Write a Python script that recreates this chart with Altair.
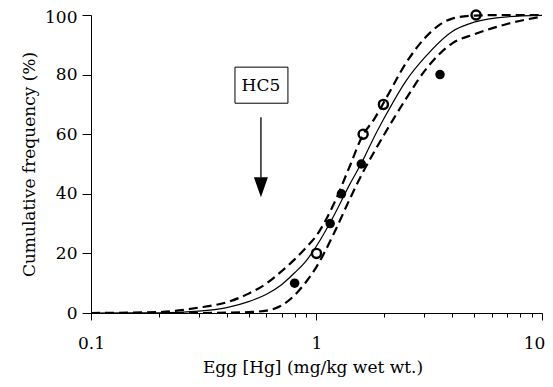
import altair as alt
import pandas as pd

curve_x = [0.1, 0.2, 0.3, 0.4, 0.5, 0.6, 0.7, 0.8, 0.9, 1.0, 1.2, 1.4, 1.6, 1.8, 2.0, 2.5, 3.0, 4.0, 5.0, 7.0, 10.0]
fit_y = [0, 0.05, 0.6, 1.8, 3.8, 6.3, 9.5, 13.5, 17.5, 22.5, 33, 43, 51, 59, 65.5, 78, 85.5, 94.5, 97.6, 99.4, 99.9]
upper_y = [0, 0.3, 1.8, 3.6, 6.5, 9.9, 14, 18, 22, 26, 37, 49, 59.5, 65, 71, 84, 92, 98.8, 99.8, 100, 100]
lower_y = [0, 0, 0, 0.1, 0.3, 0.8, 2.5, 6, 10.5, 15.5, 27, 38, 47, 54, 60, 72, 81, 90.5, 93.5, 97, 99.5]

# ---- observed points ----
filled_x = [0.8, 1.15, 1.29, 1.58, 3.53]
filled_y = [10, 30, 40, 50, 80]
open_x = [1.0, 1.61, 1.98, 5.1]
open_y = [20, 60, 70, 100]

# ---- HC5 annotation ----
hc5_label = ["HC5"]
hc5_x = [0.567]
box_x = [0.435]
box_x2 = [0.747]
box_y = [70.4]
box_y2 = [82.5]
label_y = [76.3]
arrow_top = [65.7]
arrow_base = [45.5]
arrow_head_y = [42.2]

x_ticks = [0.1, 0.2, 0.3, 0.4, 0.5, 0.6, 0.7, 0.8, 0.9, 1, 2, 3, 4, 5, 6, 7, 8, 9, 10]
y_ticks = list(range(0, 101, 5))

FONT = "DejaVu Serif"

fit_df = pd.DataFrame({"x": curve_x, "y": fit_y})
band_df = pd.concat([
    pd.DataFrame({"x": curve_x, "y": upper_y, "curve": "upper"}),
    pd.DataFrame({"x": curve_x, "y": lower_y, "curve": "lower"}),
])
filled_df = pd.DataFrame({"x": filled_x, "y": filled_y})
open_df = pd.DataFrame({"x": open_x, "y": open_y})
box_df = pd.DataFrame({"x": box_x, "x2": box_x2, "y": box_y, "y2": box_y2})
text_df = pd.DataFrame({"x": hc5_x, "y": label_y, "t": hc5_label})
arrow_df = pd.DataFrame({"x": hc5_x, "y": arrow_top, "y2": arrow_base})
head_df = pd.DataFrame({"x": hc5_x, "y": arrow_head_y})

xscale = alt.Scale(type="log", domain=[0.1, 10])
yscale = alt.Scale(domain=[0, 100], nice=False)

x_axis = alt.Axis(
    values=x_ticks,
    format="~g",
    labelExpr="(datum.value == 0.1 || datum.value == 1 || datum.value == 10) ? datum.label : ''",
    tickSize={"condition": {"test": "datum.value == 0.1 || datum.value == 1 || datum.value == 10", "value": 7}, "value": 4},
    labelOffset={"condition": {"test": "datum.value == 10", "value": -8}, "value": 0},
    labelOverlap=False,
    labelFlush=False,
    labelPadding=15,
    title="Egg [Hg] (mg/kg wet wt.)",
    titleX=221.5,
    titleY=59,
    titleBaseline="alphabetic",
    titleAnchor="middle",
    titleAlign="center",
)
y_axis = alt.Axis(
    values=y_ticks,
    labelExpr="datum.value % 20 == 0 ? datum.label : ''",
    tickSize={"condition": {"test": "datum.value % 20 == 0", "value": 9}, "value": 7},
    labelOffset={"condition": {"test": "datum.value == 100", "value": 2}, "value": 0},
    labelOverlap=False,
    labelFlush=False,
    labelPadding=5,
    title="Cumulative frequency (%)",
    titleX=-53,
    titleY=149,
    titleBaseline="bottom",
    titleAlign="center",
)

X = alt.X("x:Q", scale=xscale, axis=x_axis)
Y = alt.Y("y:Q", scale=yscale, axis=y_axis)
Xn = alt.X("x:Q", scale=xscale)
Yn = alt.Y("y:Q", scale=yscale)

fit_line = alt.Chart(fit_df).mark_line(color="black", strokeWidth=1.2, interpolate="monotone").encode(x=X, y=Y)
band_lines = alt.Chart(band_df).mark_line(
    color="black", strokeWidth=2.2, strokeDash=[9, 5], interpolate="monotone"
).encode(x=Xn, y=Yn, detail="curve:N")
filled_pts = alt.Chart(filled_df).mark_point(
    shape="circle", filled=True, color="black", size=90, opacity=1
).encode(x=Xn, y=Yn)
open_pts = alt.Chart(open_df).mark_point(
    shape="circle", filled=False, color="black", size=82, strokeWidth=2.4, opacity=1
).encode(x=Xn, y=Yn)
box = alt.Chart(box_df).mark_rect(fill="white", stroke="black", strokeWidth=1).encode(
    x=Xn, x2="x2:Q", y=Yn, y2="y2:Q"
)
txt = alt.Chart(text_df).mark_text(font=FONT, fontSize=17, color="black", baseline="middle", align="center").encode(
    x=Xn, y=Yn, text="t:N"
)
arrow = alt.Chart(arrow_df).mark_rule(color="black", strokeWidth=1.3).encode(x=Xn, y=Yn, y2="y2:Q")
head = alt.Chart(head_df).mark_point(
    shape="M-0.7,-1L0.7,-1L0,1Z", filled=True, color="black", size=400, opacity=1
).encode(x=Xn, y=Yn)

chart = alt.layer(fit_line, band_lines, filled_pts, open_pts, box, txt, arrow, head).properties(
    width=451,
    height=298,
    autosize=alt.AutoSizeParams(type="none"),
    padding={"left": 83, "top": 7, "right": 3, "bottom": 64},
).configure_view(stroke=None).configure_axis(
    domainColor="black",
    domainWidth=1,
    tickColor="black",
    tickWidth=1,
    grid=False,
    labelFont=FONT,
    labelFontSize=17,
    labelColor="black",
    titleFont=FONT,
    titleFontSize=17,
    titleFontWeight="normal",
    titleColor="black",
)

chart.save("out.html", embed_options={"renderer": "svg", "actions": False})
